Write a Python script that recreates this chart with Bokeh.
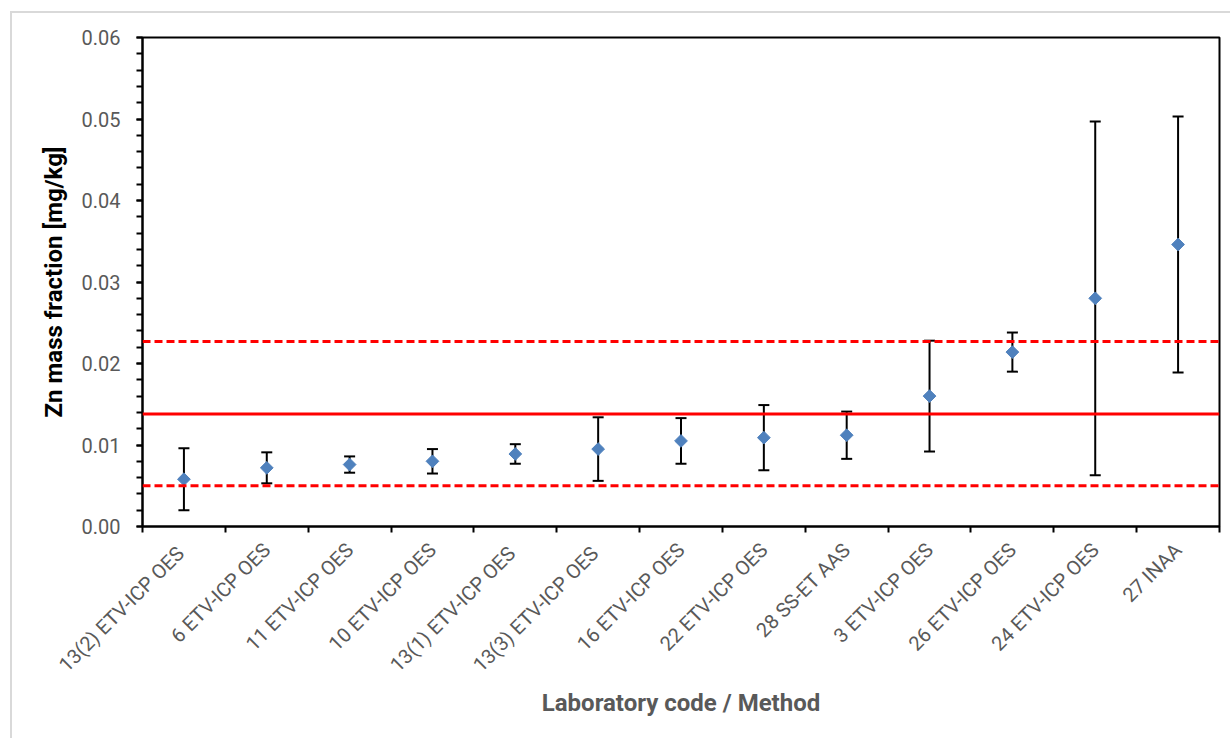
from math import pi

from bokeh.embed import file_html
from bokeh.models import (ColumnDataSource, FixedTicker, NumeralTickFormatter,
                          Range1d, Span, TeeHead, Whisker)
from bokeh.plotting import figure
from bokeh.resources import INLINE

# Laboratory results for Zn, ordered by reported value
labs = [
    "13(2)  ETV-ICP OES", "6 ETV-ICP OES", "11 ETV-ICP OES", "10 ETV-ICP OES",
    "13(1)  ETV-ICP OES", "13(3)  ETV-ICP OES", "16 ETV-ICP OES", "22 ETV-ICP OES",
    "28 SS-ET AAS", "3 ETV-ICP OES", "26 ETV-ICP OES", "24 ETV-ICP OES", "27 INAA",
]
zn_value = [0.0058, 0.0072, 0.0076, 0.0080, 0.0089, 0.0095, 0.0105,
            0.0109, 0.0112, 0.0160, 0.0214, 0.0280, 0.0346]
zn_uncertainty = [0.0038, 0.0019, 0.0010, 0.0015, 0.0012, 0.0039, 0.0028,
                  0.0040, 0.0029, 0.0068, 0.0024, 0.0217, 0.0157]

# Assigned value and its acceptance band
assigned_value = 0.0138
band_lower = 0.0050
band_upper = 0.0227

y_ticks = [0.00, 0.01, 0.02, 0.03, 0.04, 0.05, 0.06]
y_minor_ticks = [k / 500 for k in range(31)]

FONT = "Roboto"
GREY = "#595959"

n = len(labs)
pos = [i + 0.5 for i in range(n)]
src = ColumnDataSource(dict(
    x=pos,
    y=zn_value,
    upper=[v + u for v, u in zip(zn_value, zn_uncertainty)],
    lower=[v - u for v, u in zip(zn_value, zn_uncertainty)],
))

p = figure(width=1220, height=727, output_backend="svg", toolbar_location=None,
           x_range=Range1d(0, n), y_range=Range1d(0, 0.06),
           min_border_left=130, min_border_right=13,
           min_border_top=24, min_border_bottom=214)
# chart area border, offset inside the page
p.styles = {
    "margin-left": "10px",
    "margin-top": "11px",
    "border-left": "2px solid #d9d9d9",
    "border-top": "2px solid #d9d9d9",
}
p.background_fill_color = "white"
p.border_fill_color = "white"
p.xgrid.visible = False
p.ygrid.visible = False
p.outline_line_color = "black"
p.outline_line_width = 2

# y axis
ya = p.yaxis[0]
ya.ticker = FixedTicker(ticks=y_ticks, minor_ticks=y_minor_ticks)
ya.formatter = NumeralTickFormatter(format="0.00")
ya.axis_line_color = "black"
ya.axis_line_width = 2
ya.major_tick_line_color = "black"
ya.major_tick_line_width = 2
ya.major_tick_out = 6
ya.major_tick_in = 0
ya.minor_tick_line_color = "black"
ya.minor_tick_line_width = 2
ya.minor_tick_out = 6
ya.minor_tick_in = 0
ya.major_label_text_font = FONT
ya.major_label_text_font_size = "20px"
ya.major_label_text_color = GREY
ya.major_label_standoff = 16
ya.axis_label = "Zn mass fraction [mg/kg]"
ya.axis_label_text_font = FONT
ya.axis_label_text_font_style = "bold"
ya.axis_label_text_font_size = "24px"
ya.axis_label_text_color = "black"
ya.axis_label_standoff = 11

# x axis: labels at category centres, ticks on category boundaries
xa = p.xaxis[0]
xa.ticker = FixedTicker(ticks=pos, minor_ticks=list(range(n + 1)))
xa.major_label_overrides = {x: lab for x, lab in zip(pos, labs)}
xa.major_label_orientation = pi / 4
xa.axis_line_color = "black"
xa.axis_line_width = 2
xa.major_tick_line_color = None
xa.major_tick_out = 0
xa.major_tick_in = 0
xa.minor_tick_line_color = "black"
xa.minor_tick_line_width = 2
xa.minor_tick_out = 6
xa.minor_tick_in = 0
xa.major_label_text_font = FONT
xa.major_label_text_font_size = "20px"
xa.major_label_text_color = GREY
xa.major_label_standoff = 14
xa.axis_label = "Laboratory code / Method"
xa.axis_label_text_font = FONT
xa.axis_label_text_font_style = "bold"
xa.axis_label_text_font_size = "24px"
xa.axis_label_text_color = GREY
xa.axis_label_standoff = 1

# assigned value and band limits
p.add_layout(Span(location=assigned_value, dimension="width",
                  line_color="#ff0000", line_width=3))
for lim in (band_lower, band_upper):
    p.add_layout(Span(location=lim, dimension="width", line_color="#ff0000",
                      line_width=3, line_dash="8 4"))

# expanded uncertainties
head = dict(size=11, line_color="black", line_width=2)
p.add_layout(Whisker(base="x", upper="upper", lower="lower", source=src,
                     line_color="black", line_width=2,
                     upper_head=TeeHead(**head), lower_head=TeeHead(**head)))

# reported values
p.scatter("x", "y", source=src, marker="square", size=9, angle=pi / 4,
          fill_color="#4f81bd", line_color="#4f81bd")

open("out.html", "w").write(file_html(p, INLINE))
